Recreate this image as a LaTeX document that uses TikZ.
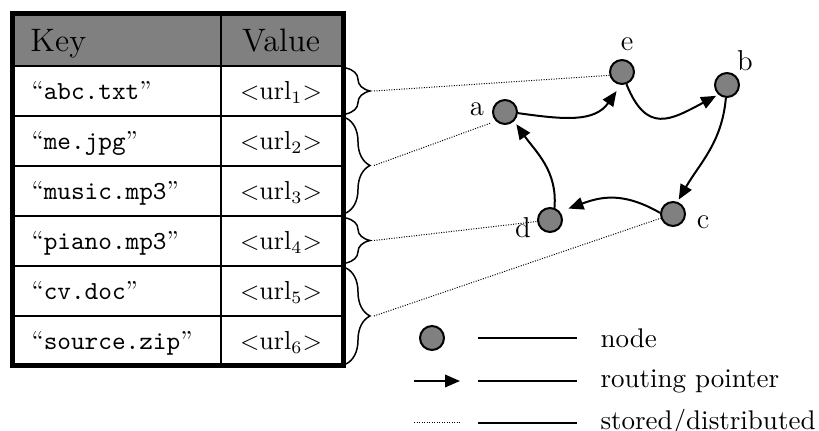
\documentclass[tikz,border=0pt]{standalone}
\usetikzlibrary{decorations.pathreplacing,arrows.meta}
\definecolor{hdr}{RGB}{128,128,128}
\definecolor{nodegray}{RGB}{128,128,128}
\begin{document}
\begin{tikzpicture}[x=0.4pt,y=-0.4pt,
  peer/.style={circle,draw,line width=0.8pt,fill=nodegray,minimum size=9.6pt,inner sep=0pt},
  lbl/.style={inner sep=0pt,font=\fontsize{11.5}{13}\selectfont},
  lgd/.style={inner sep=0pt,anchor=mid west,font=\fontsize{10.8}{13}\selectfont},
  hdrtxt/.style={inner sep=0pt,font=\fontsize{13}{15.6}\selectfont,text height=8.9pt,text depth=0pt},
  celltxt/.style={inner sep=0pt,font=\fontsize{10.4}{12.5}\selectfont,text height=7.1pt,text depth=0pt},
  ptr/.style={line width=0.8pt,-{Triangle[length=6pt,width=5pt]}},
  dist/.style={line width=0.4pt,dash pattern=on 0.4pt off 0.6pt},
  brc/.style={decorate,decoration={brace,amplitude=9.6pt},line width=0.6pt},
  thin/.style={line width=1pt},
]
\useasboundingbox (0,0) rectangle (819,431);

% table
\fill[hdr] (12,14) rectangle (343,66);
\foreach \yy in {66,116,166,216,266,316} \draw[thin] (12,\yy) -- (343,\yy);
\draw[thin] (221,14) -- (221,366);
\draw[line width=2pt] (12,14) rectangle (343,366);

\node[hdrtxt,anchor=west] (hk) at (30,40) {Key};
\node[hdrtxt] (hv) at (281,40) {Value};

\node[celltxt,anchor=west] (k1) at (31,91) {``\texttt{abc.txt}''};
\node[celltxt,anchor=west] (k2) at (31,141) {``\texttt{me.jpg}''};
\node[celltxt,anchor=west] (k3) at (31,191) {``\texttt{music.mp3}''};
\node[celltxt,anchor=west] (k4) at (31,241) {``\texttt{piano.mp3}''};
\node[celltxt,anchor=west] (k5) at (31,291) {``\texttt{cv.doc}''};
\node[celltxt,anchor=west] (k6) at (31,341) {``\texttt{source.zip}''};

\node[celltxt] (v1) at (281,91) {$<$url$_1$$>$};
\node[celltxt] (v2) at (281,141) {$<$url$_2$$>$};
\node[celltxt] (v3) at (281,191) {$<$url$_3$$>$};
\node[celltxt] (v4) at (281,241) {$<$url$_4$$>$};
\node[celltxt] (v5) at (281,291) {$<$url$_5$$>$};
\node[celltxt] (v6) at (281,341) {$<$url$_6$$>$};

% braces
\draw[brc] (346,68) -- (346,114);
\draw[brc] (346,118) -- (346,213);
\draw[brc] (346,218) -- (346,263);
\draw[brc] (346,268) -- (346,364);
\coordinate (t1) at (374,91);
\coordinate (t2) at (374,165.5);
\coordinate (t3) at (374,240.5);
\coordinate (t4) at (374,316);

% peers
\node[peer] (a) at (505,112) {};
\node[peer] (b) at (727,85) {};
\node[peer] (c) at (673,214) {};
\node[peer] (d) at (550,220) {};
\node[peer] (e) at (622,72) {};
\node[lbl] (la) at (477,109) {a};
\node[lbl] (lb) at (745,61) {b};
\node[lbl] (lc) at (703,222) {c};
\node[lbl] (ld) at (523,228) {d};
\node[lbl] (le) at (627,44) {e};

% routing pointers
\draw[ptr,shorten >=3pt] (a.-5) to[out=-8,in=-125,looseness=1.1] (e.-95);
\draw[ptr,shorten >=1pt] (e.-70) to[out=-68,in=-152,looseness=1.5] (b.228);
\draw[ptr,shorten >=1pt] (b.-95) to[out=-95,in=60] (c.70);
\draw[ptr,shorten >=3.6pt] (c.175) to[out=150,in=20,looseness=1.1] (d.40);
\draw[ptr,shorten >=1.5pt] (d.70) to[out=85,in=-55] (a.-45);

% stored/distributed
\draw[dist] (t1) -- (e.195);
\draw[dist,shorten >=2pt] (t2) -- (a.225);
\draw[dist] (t3) -- (d);
\draw[dist] (t4) -- (c);

% legend
\node[peer] (ln) at (432,338) {};
\coordinate (ps) at (414,381); \coordinate (pe) at (460,381);
\draw[ptr] (ps) -- (pe);
\coordinate (ds) at (414,423); \coordinate (de) at (460,423);
\draw[dist] (ds) -- (de);
\coordinate (l1s) at (478,338); \coordinate (l1e) at (577,338);
\coordinate (l2s) at (478,381); \coordinate (l2e) at (577,381);
\coordinate (l3s) at (478,423); \coordinate (l3e) at (577,423);
\draw[line width=0.8pt] (l1s) -- (l1e);
\draw[line width=0.8pt] (l2s) -- (l2e);
\draw[line width=0.8pt] (l3s) -- (l3e);
\node[lgd] (tn) at (600,342) {node};
\node[lgd] (tr) at (600,382) {routing pointer};
\node[lgd] (ts) at (600,424) {stored/distributed};
\end{tikzpicture}
\end{document}
